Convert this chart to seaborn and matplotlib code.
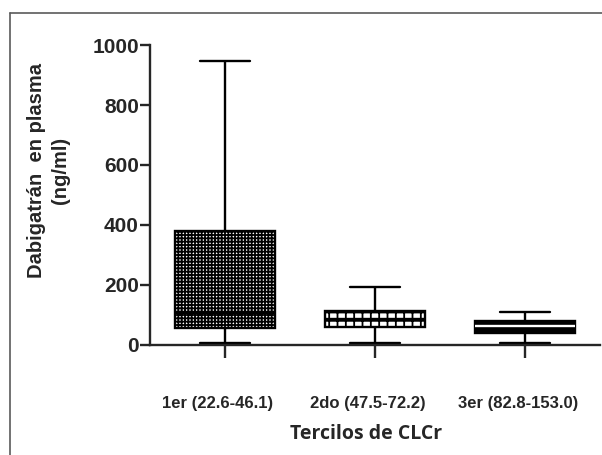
import matplotlib.pyplot as plt
import matplotlib.transforms as mtransforms
import pandas as pd
import seaborn as sns
from matplotlib.lines import Line2D

TERCILES = ["1er (22.6-46.1)", "2do (47.5-72.2)", "3er (82.8-153.0)"]
MINIMA = [7, 7, 7]
Q1 = [57, 60, 40]
MEDIANS = [107, 85, 63]
Q3 = [380, 113, 80]
MAXIMA = [947, 193, 110]
Y_TICKS = [0, 200, 400, 600, 800, 1000]

sns.set_style("ticks")
plt.rcParams["font.family"] = ["Liberation Sans", "DejaVu Sans"]
plt.rcParams["font.weight"] = "bold"
plt.rcParams["hatch.linewidth"] = 1.3

# five values per group -> exact min / quartiles / max with whis=(0, 100)
rows = []
for i, label in enumerate(TERCILES):
    for v in (MINIMA[i], Q1[i], MEDIANS[i], Q3[i], MAXIMA[i]):
        rows.append({"tercil": label, "valor": v})
df = pd.DataFrame(rows)

fig = plt.figure(figsize=(6.02, 4.55), dpi=100)
ax = fig.add_axes([0.249, 0.242, 0.748, 0.659])
sns.boxplot(
    data=df, x="tercil", y="valor", whis=(0, 100), width=0.667,
    color="white", linecolor="black", linewidth=1.7, ax=ax,
)

box = ax.containers[0]
hatches = ["+++++", "++", None]
faces = ["white", "white", "black"]
median_colors = ["black", "black", "white"]
for patch, hatch, face in zip(box.boxes, hatches, faces):
    patch.set_facecolor(face)
    patch.set_edgecolor("black")
    if hatch:
        patch.set_hatch(hatch)
for line, col in zip(box.medians, median_colors):
    line.set_color(col)
    line.set_linewidth(1.7)

ax.set_ylim(0, 1000)
ax.set_xlim(-0.5, 2.5)
ax.set_yticks(Y_TICKS)
ax.tick_params(axis="y", length=7, width=1.7, pad=1, labelsize=15)
ax.tick_params(axis="x", length=9, width=1.7, pad=28, labelsize=12)
for side in ("left", "bottom"):
    ax.spines[side].set_linewidth(1.7)
sns.despine(ax=ax)

# tick labels sit a little left of their ticks in the original
shift = mtransforms.ScaledTranslation(-0.07, 0, fig.dpi_scale_trans)
for lbl in ax.get_xticklabels():
    lbl.set_transform(lbl.get_transform() + shift)

ax.set_ylabel("Dabigatrán  en plasma\n(ng/ml)", fontsize=14.5, fontweight="bold",
              linespacing=1.3)
ax.yaxis.set_label_coords(-0.178, 0.583)
ax.set_xlabel("Tercilos de CLCr", fontsize=14, fontweight="bold",
              family=["Open Sans", "DejaVu Sans"])
ax.xaxis.set_label_coords(0.48, -0.265)

# grey frame of the original figure
fig.add_artist(Line2D([10 / 602, 1], [1 - 12.5 / 455] * 2,
                      transform=fig.transFigure, color="#5a5a5a", lw=1.2))
fig.add_artist(Line2D([10 / 602] * 2, [0, 1 - 12.5 / 455],
                      transform=fig.transFigure, color="#5a5a5a", lw=1.2))

fig.savefig("out.png", dpi=100)
